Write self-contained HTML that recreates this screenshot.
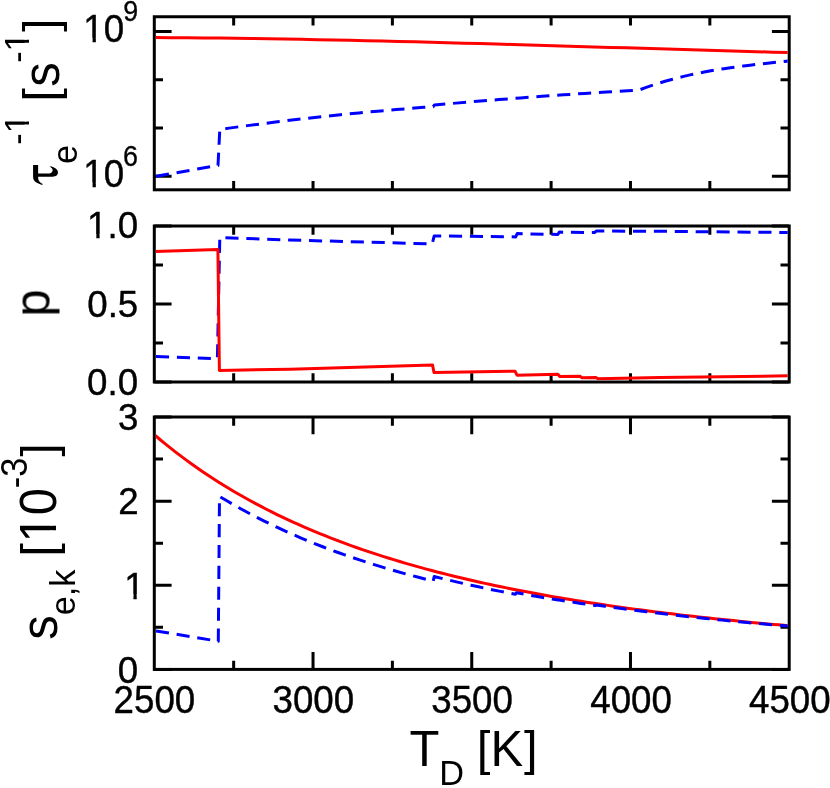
<!DOCTYPE html>
<html><head><meta charset="utf-8"><title>chart</title>
<style>html,body{margin:0;padding:0;background:#fff;}svg{display:block;will-change:transform;}text{font-family:"Liberation Sans",sans-serif;fill:#000;font-kerning:none;font-variant-ligatures:none;white-space:pre;}</style>
</head><body>
<svg width="830" height="788" viewBox="0 0 830 788">
<rect x="0" y="0" width="830" height="788" fill="#fff"/>
<defs><clipPath id="p1"><rect x="155.80" y="18.25" width="631.90" height="170.05"/></clipPath><clipPath id="p2"><rect x="155.80" y="227.50" width="631.90" height="153.00"/></clipPath><clipPath id="p3"><rect x="155.80" y="418.50" width="631.90" height="249.40"/></clipPath><clipPath id="c1"><path clip-rule="evenodd" d="M-400 -400H400V400H-400ZM0.69 -4.34H9.23V1.50H0.69ZM12.47 -4.34H20.73V1.50H12.47Z"/></clipPath><clipPath id="c2"><path clip-rule="evenodd" d="M-400 -400H400V400H-400ZM0.69 -4.34H9.23V1.50H0.69ZM12.47 -4.34H20.73V1.50H12.47Z"/></clipPath><clipPath id="c3"><path clip-rule="evenodd" d="M-400 -400H400V400H-400ZM0.69 -4.34H9.23V1.50H0.69ZM12.47 -4.34H20.73V1.50H12.47Z"/></clipPath><clipPath id="c4"><path clip-rule="evenodd" d="M-400 -400H400V400H-400ZM0.69 -4.34H9.23V1.50H0.69ZM12.47 -4.34H20.73V1.50H12.47Z"/></clipPath><clipPath id="c5"><path clip-rule="evenodd" d="M-400 -400H400V400H-400ZM11.93 -4.16H20.05V1.50H11.93ZM23.08 -4.16H30.92V1.50H23.08Z"/></clipPath><clipPath id="c6"><path clip-rule="evenodd" d="M-400 -400H400V400H-400ZM11.93 -4.16H20.05V1.50H11.93ZM23.08 -4.16H30.92V1.50H23.08Z"/></clipPath><clipPath id="c7"><path clip-rule="evenodd" d="M-400 -400H400V400H-400ZM1.59 -5.26H12.32V1.50H1.59ZM16.65 -5.26H27.00V1.50H16.65Z"/></clipPath></defs>
<path d="M233.66 16.75L233.66 25.45 M233.66 189.80L233.66 181.10 M313.03 16.75L313.03 25.45 M313.03 189.80L313.03 181.10 M392.39 16.75L392.39 25.45 M392.39 189.80L392.39 181.10 M471.75 16.75L471.75 25.45 M471.75 189.80L471.75 181.10 M551.11 16.75L551.11 25.45 M551.11 189.80L551.11 181.10 M630.48 16.75L630.48 25.45 M630.48 189.80L630.48 181.10 M709.84 16.75L709.84 25.45 M709.84 189.80L709.84 181.10 M154.30 31.45L171.60 31.45 M789.20 31.45L771.90 31.45 M154.30 176.20L171.60 176.20 M789.20 176.20L771.90 176.20 M154.30 79.70L163.00 79.70 M789.20 79.70L780.50 79.70 M154.30 128.00L163.00 128.00 M789.20 128.00L780.50 128.00" stroke="#000" stroke-width="3.00" fill="none"/>
<rect x="154.30" y="16.75" width="634.90" height="173.05" fill="none" stroke="#000" stroke-width="3.00"/>
<g clip-path="url(#p1)">
<polyline points="154.30,37.56 170.58,37.66 186.86,37.79 203.14,37.94 219.42,38.12 235.70,38.32 251.98,38.54 268.26,38.79 284.54,39.06 300.82,39.35 317.09,39.65 333.37,39.98 349.65,40.32 365.93,40.68 382.21,41.06 398.49,41.45 414.77,41.85 431.05,42.26 447.33,42.69 463.61,43.13 479.89,43.57 496.17,44.03 512.45,44.49 528.73,44.96 545.01,45.44 561.29,45.92 577.57,46.40 593.85,46.89 610.13,47.38 626.41,47.87 642.68,48.35 658.96,48.84 675.24,49.33 691.52,49.81 707.80,50.29 724.08,50.77 740.36,51.24 756.64,51.70 772.92,52.15 789.20,52.60" fill="none" stroke="#ff0000" stroke-width="3.00" stroke-linejoin="round"/>
<polyline points="156.00,176.30 218.00,165.40 219.80,129.42 229.08,128.13 238.36,126.86 247.63,125.62 256.91,124.40 266.19,123.22 275.47,122.06 284.75,120.93 294.03,119.83 303.30,118.76 312.58,117.72 321.86,116.70 331.14,115.71 340.42,114.75 349.70,113.82 358.97,112.91 368.25,112.04 377.53,111.19 386.81,110.37 396.09,109.58 405.37,108.81 414.64,108.08 423.92,107.37 433.20,106.69 434.40,105.00 445.14,104.06 455.88,103.13 466.63,102.22 477.37,101.32 488.11,100.45 498.85,99.60 509.59,98.76 520.34,97.94 531.08,97.14 541.82,96.36 552.56,95.60 563.31,94.86 574.05,94.13 584.79,93.43 595.53,92.74 606.27,92.07 617.02,91.42 627.76,90.79 638.50,90.17 639.00,90.07 645.53,87.66 652.06,85.40 658.59,83.28 665.12,81.31 671.65,79.47 678.18,77.75 684.71,76.15 691.24,74.66 697.77,73.28 704.30,71.99 710.83,70.80 717.37,69.69 723.90,68.65 730.43,67.69 736.96,66.79 743.49,65.94 750.02,65.15 756.55,64.39 763.08,63.67 769.61,62.98 776.14,62.31 782.67,61.66 789.20,61.01" fill="none" stroke="#0000ff" stroke-width="3.00" stroke-linejoin="round" stroke-dasharray="13.1 7.8"/>
</g>
<path d="M233.66 226.00L233.66 234.70 M233.66 382.00L233.66 373.30 M313.03 226.00L313.03 234.70 M313.03 382.00L313.03 373.30 M392.39 226.00L392.39 234.70 M392.39 382.00L392.39 373.30 M471.75 226.00L471.75 234.70 M471.75 382.00L471.75 373.30 M551.11 226.00L551.11 234.70 M551.11 382.00L551.11 373.30 M630.48 226.00L630.48 234.70 M630.48 382.00L630.48 373.30 M709.84 226.00L709.84 234.70 M709.84 382.00L709.84 373.30 M154.30 226.00L171.60 226.00 M789.20 226.00L771.90 226.00 M154.30 304.00L171.60 304.00 M789.20 304.00L771.90 304.00 M154.30 382.00L171.60 382.00 M789.20 382.00L771.90 382.00 M154.30 265.00L163.00 265.00 M789.20 265.00L780.50 265.00 M154.30 343.00L163.00 343.00 M789.20 343.00L780.50 343.00" stroke="#000" stroke-width="3.00" fill="none"/>
<rect x="154.30" y="226.00" width="634.90" height="156.00" fill="none" stroke="#000" stroke-width="3.00"/>
<g clip-path="url(#p2)">
<polyline points="156.00,356.60 217.40,358.60 219.80,237.60 290.00,240.00 432.20,243.90 434.20,235.90 515.70,236.90 517.20,233.60 557.80,234.50 559.30,232.10 594.80,232.50 596.20,231.00 660.00,231.30 789.20,232.50" fill="none" stroke="#0000ff" stroke-width="3.00" stroke-linejoin="round" stroke-dasharray="13.1 7.8"/>
<polyline points="154.30,251.60 217.90,249.60 219.40,370.40 290.00,369.20 432.50,364.90 434.00,372.50 515.00,371.20 517.00,375.20 557.80,374.30 560.00,376.60 580.00,376.20 582.00,377.80 596.00,377.60 598.00,378.70 660.00,377.50 789.20,375.80" fill="none" stroke="#ff0000" stroke-width="3.00" stroke-linejoin="round"/>
</g>
<path d="M233.66 417.00L233.66 425.70 M233.66 669.40L233.66 660.70 M313.03 417.00L313.03 434.30 M313.03 669.40L313.03 652.10 M392.39 417.00L392.39 425.70 M392.39 669.40L392.39 660.70 M471.75 417.00L471.75 434.30 M471.75 669.40L471.75 652.10 M551.11 417.00L551.11 425.70 M551.11 669.40L551.11 660.70 M630.48 417.00L630.48 434.30 M630.48 669.40L630.48 652.10 M709.84 417.00L709.84 425.70 M709.84 669.40L709.84 660.70 M154.30 669.40L171.60 669.40 M789.20 669.40L771.90 669.40 M154.30 585.27L171.60 585.27 M789.20 585.27L771.90 585.27 M154.30 501.13L171.60 501.13 M789.20 501.13L771.90 501.13 M154.30 417.00L171.60 417.00 M789.20 417.00L771.90 417.00 M154.30 627.33L163.00 627.33 M789.20 627.33L780.50 627.33 M154.30 543.20L163.00 543.20 M789.20 543.20L780.50 543.20 M154.30 459.07L163.00 459.07 M789.20 459.07L780.50 459.07" stroke="#000" stroke-width="3.00" fill="none"/>
<rect x="154.30" y="417.00" width="634.90" height="252.40" fill="none" stroke="#000" stroke-width="3.00"/>
<g clip-path="url(#p3)">
<polyline points="154.30,434.75 159.64,439.26 164.97,443.65 170.31,447.93 175.64,452.10 180.98,456.16 186.31,460.12 191.65,463.99 196.98,467.75 202.32,471.43 207.65,475.01 212.99,478.51 218.32,481.92 223.66,485.25 228.99,488.50 234.33,491.67 239.66,494.77 245.00,497.79 250.34,500.75 255.67,503.63 261.01,506.45 266.34,509.21 271.68,511.90 277.01,514.53 282.35,517.10 287.68,519.62 293.02,522.08 298.35,524.48 303.69,526.83 309.02,529.13 314.36,531.38 319.69,533.58 325.03,535.73 330.36,537.84 335.70,539.90 341.04,541.92 346.37,543.89 351.71,545.83 357.04,547.72 362.38,549.58 367.71,551.39 373.05,553.17 378.38,554.91 383.72,556.62 389.05,558.30 394.39,559.93 399.72,561.54 405.06,563.12 410.39,564.66 415.73,566.17 421.06,567.65 426.40,569.11 431.74,570.54 437.07,571.93 442.41,573.31 447.74,574.65 453.08,575.97 458.41,577.27 463.75,578.54 469.08,579.78 474.42,581.01 479.75,582.21 485.09,583.39 490.42,584.54 495.76,585.68 501.09,586.79 506.43,587.89 511.76,588.96 517.10,590.02 522.44,591.05 527.77,592.07 533.11,593.07 538.44,594.06 543.78,595.02 549.11,595.97 554.45,596.90 559.78,597.82 565.12,598.72 570.45,599.60 575.79,600.47 581.12,601.32 586.46,602.16 591.79,602.99 597.13,603.80 602.46,604.60 607.80,605.38 613.14,606.16 618.47,606.92 623.81,607.66 629.14,608.40 634.48,609.12 639.81,609.83 645.15,610.53 650.48,611.22 655.82,611.89 661.15,612.56 666.49,613.21 671.82,613.86 677.16,614.49 682.49,615.12 687.83,615.73 693.16,616.34 698.50,616.94 703.84,617.52 709.17,618.10 714.51,618.67 719.84,619.23 725.18,619.78 730.51,620.32 735.85,620.86 741.18,621.39 746.52,621.90 751.85,622.42 757.19,622.92 762.52,623.42 767.86,623.90 773.19,624.39 778.53,624.86 783.86,625.33 789.20,625.79" fill="none" stroke="#ff0000" stroke-width="3.00" stroke-linejoin="round"/>
<polyline points="156.00,630.90 218.30,641.20 219.50,496.40 226.87,500.79 234.24,505.07 241.61,509.21 248.98,513.21 256.34,517.08 263.71,520.82 271.08,524.44 278.45,527.94 285.82,531.33 293.19,534.62 300.56,537.80 307.93,540.87 315.30,543.86 322.67,546.75 330.03,549.55 337.40,552.27 344.77,554.90 352.14,557.46 359.51,559.93 366.88,562.34 374.25,564.67 381.62,566.93 388.99,569.13 396.36,571.26 403.72,573.33 411.09,575.34 418.46,577.29 425.83,579.19 433.20,581.03 434.20,576.48 441.58,578.33 448.96,580.12 456.35,581.87 463.73,583.57 471.11,585.22 478.49,586.83 485.87,588.39 493.25,589.92 500.64,591.40 508.02,592.84 515.40,594.25 516.40,592.73 522.37,593.84 528.34,594.94 534.31,596.00 540.29,597.05 546.26,598.07 552.23,599.08 558.20,600.06 559.20,600.02 566.46,601.18 573.72,602.32 580.98,603.43 588.24,604.51 595.50,605.56 596.50,604.96 604.88,606.17 613.26,607.34 621.63,608.49 630.01,609.61 638.39,610.69 646.77,611.75 655.15,612.78 663.53,613.79 671.90,614.76 680.28,615.72 688.66,616.65 697.04,617.55 705.42,618.43 713.80,619.29 722.17,620.13 730.55,620.95 738.93,621.74 747.31,622.52 755.69,623.28 764.07,624.02 772.44,624.74 780.82,625.45 789.20,626.13" fill="none" stroke="#0000ff" stroke-width="3.00" stroke-linejoin="round" stroke-dasharray="13.1 7.8"/>
</g>
<g opacity="0.999">
<text transform="translate(113.57 713.30) scale(1 1.040)" font-size="36.70" stroke="#000" stroke-width="0.40" stroke-linejoin="round">2500</text>
<text transform="translate(272.52 713.30) scale(1 1.040)" font-size="36.70" stroke="#000" stroke-width="0.40" stroke-linejoin="round">3000</text>
<text transform="translate(431.25 713.30) scale(1 1.040)" font-size="36.70" stroke="#000" stroke-width="0.40" stroke-linejoin="round">3500</text>
<text transform="translate(590.25 713.30) scale(1 1.040)" font-size="36.70" stroke="#000" stroke-width="0.40" stroke-linejoin="round">4000</text>
<text transform="translate(748.97 713.30) scale(1 1.040)" font-size="36.70" stroke="#000" stroke-width="0.40" stroke-linejoin="round">4500</text>
<text transform="translate(117.72 682.70) scale(1 1.030)" font-size="36.70" stroke="#000" stroke-width="0.40" stroke-linejoin="round">0</text>
<text transform="translate(124.23 598.57) scale(1 1.030)" font-size="36.70" clip-path="url(#c1)" stroke="#000" stroke-width="0.40" stroke-linejoin="round">1</text>
<text transform="translate(118.13 514.43) scale(1 1.030)" font-size="36.70" stroke="#000" stroke-width="0.40" stroke-linejoin="round">2</text>
<text transform="translate(117.90 430.30) scale(1 1.030)" font-size="36.70" stroke="#000" stroke-width="0.40" stroke-linejoin="round">3</text>
<text transform="translate(87.12 394.70) scale(1 1.030)" font-size="36.70" stroke="#000" stroke-width="0.40" stroke-linejoin="round">0.0</text>
<text transform="translate(87.22 316.90) scale(1 1.030)" font-size="36.70" stroke="#000" stroke-width="0.40" stroke-linejoin="round">0.5</text>
<text transform="translate(87.12 238.40) scale(1 1.030)" font-size="36.70" clip-path="url(#c2)" stroke="#000" stroke-width="0.40" stroke-linejoin="round">1.0</text>
<text transform="translate(83.37 42.30) scale(1 1.040)" font-size="36.70" clip-path="url(#c3)" stroke="#000" stroke-width="0.40" stroke-linejoin="round">10</text>
<text transform="translate(123.13 21.20) scale(1 1.070)" font-size="26.90" stroke="#000" stroke-width="0.30" stroke-linejoin="round">9</text>
<text transform="translate(83.37 186.90) scale(1 1.040)" font-size="36.70" clip-path="url(#c4)" stroke="#000" stroke-width="0.40" stroke-linejoin="round">10</text>
<text transform="translate(123.03 165.80) scale(1 1.070)" font-size="26.90" stroke="#000" stroke-width="0.30" stroke-linejoin="round">6</text>
<text transform="translate(409.50 766.00) scale(1 1.025)" font-size="49.00">T</text>
<text transform="translate(439.13 785.30) scale(1 1.040)" font-size="34.30">D</text>
<text transform="translate(476.64 765.00)" font-size="49.00">[</text>
<text transform="translate(490.47 766.00) scale(1 1.025)" font-size="49.00">K</text>
<text transform="translate(523.95 765.00)" font-size="49.00">]</text>
<path transform="translate(20 140) scale(0.08434)" d="M155 297L215 297L215 398L330 398C375 398 400 370 380 338L352 312C420 318 455 360 450 392C445 425 410 438 370 437L215 437L215 452C218 490 240 512 270 522L262 534C200 515 155 490 155 440Z" fill="#000"/>
<text transform="translate(58.5 185.5) rotate(-90)" font-size="49" fill="none" style="fill:none">&#964;</text>
<text transform="translate(77.30 164.00) rotate(-90) scale(1 1.030)" font-size="34.30">e</text>
<text transform="translate(28.90 144.65) rotate(-90) scale(1 1.030)" font-size="34.30" clip-path="url(#c5)">-1</text>
<text transform="translate(57.00 101.71) rotate(-90)" font-size="49.00">[</text>
<text transform="translate(58.70 86.80) rotate(-90) scale(1 1.040)" font-size="49.00">s</text>
<text transform="translate(28.90 62.80) rotate(-90) scale(1 1.030)" font-size="34.30" clip-path="url(#c6)">-1</text>
<text transform="translate(57.00 32.00) rotate(-90)" font-size="49.00">]</text>
<text transform="translate(49.10 316.63) rotate(-90) scale(1 1.035)" font-size="49.00">p</text>
<text transform="translate(56.60 639.75) rotate(-90) scale(1 1.040)" font-size="49.00">s</text>
<text transform="translate(75.20 615.23) rotate(-90) scale(1 1.030)" font-size="34.30">e,k</text>
<text transform="translate(55.00 556.66) rotate(-90)" font-size="49.00">[</text>
<text transform="translate(56.00 542.50) rotate(-90) scale(1 1.040)" font-size="49.00" clip-path="url(#c7)">10</text>
<text transform="translate(27.00 488.26) rotate(-90) scale(1 1.050)" font-size="34.30">-3</text>
<text transform="translate(55.00 456.75) rotate(-90)" font-size="49.00">]</text>
</g>
</svg>
</body></html>
